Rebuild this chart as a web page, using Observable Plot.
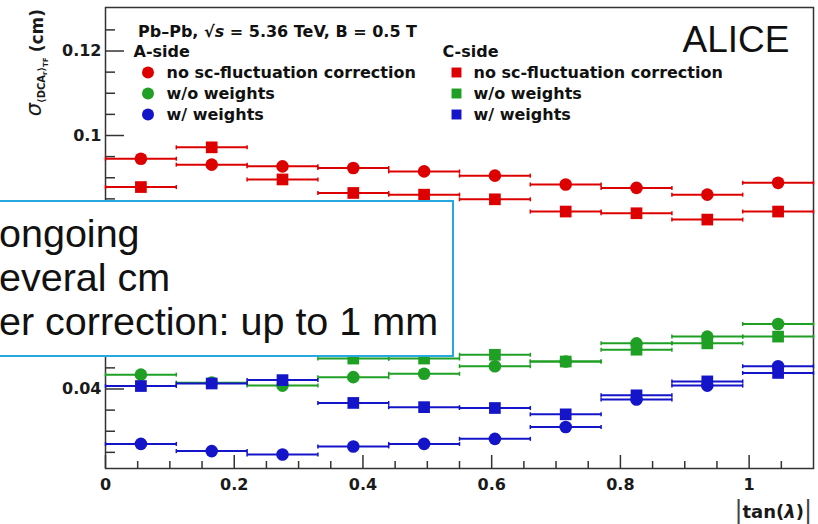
<!DOCTYPE html>
<html>
<head>
<meta charset="utf-8">
<script src="https://cdn.jsdelivr.net/npm/d3@7"></script>
<script src="https://cdn.jsdelivr.net/npm/@observablehq/plot@0.6"></script>
<style>
html, body { margin: 0; padding: 0; background: #fff; overflow: hidden; }
#wrap { position: relative; width: 818px; height: 524px; overflow: hidden; background: #fff; }
#note { position: absolute; left: -30px; top: 199.5px; width: 483.5px; height: 157.5px;
        box-sizing: border-box; border: 2.5px solid #26a9e0; background: #fff; }
.nline { position: absolute; left: -1px; font-family: "Liberation Sans", Arial, sans-serif;
         font-size: 39.5px; line-height: 40px; white-space: nowrap; color: #111; }
</style>
</head>
<body>
<div id="wrap"></div>
<script>
// ---------- data ----------
const binEdges = [0, 0.11, 0.22, 0.33, 0.44, 0.55, 0.66, 0.77, 0.88, 0.99, 1.10];
const seriesNames = ["no sc-fluctuation correction", "w/o weights", "w/ weights"];
const seriesColors = ["#dd0000", "#1f9f24", "#1414c8"];
const sideNames = ["A-side", "C-side"];

// A-side (circles)
const aSideNoCorr  = [0.0945, 0.0931, 0.0927, 0.0923, 0.0915, 0.0905, 0.0884, 0.0876, 0.0860, 0.0888];
const aSideNoW     = [0.0434, 0.0415, 0.0408, 0.0428, 0.0436, 0.0454, 0.0465, 0.0508, 0.0524, 0.0554];
const aSideW       = [0.0270, 0.0253, 0.0245, 0.0264, 0.0270, 0.0282, 0.0310, 0.0375, 0.0408, 0.0454];
// C-side (squares)
const cSideNoCorr  = [0.0878, 0.0972, 0.0896, 0.0864, 0.0860, 0.0849, 0.0820, 0.0816, 0.0801, 0.0820];
const cSideNoW     = [0.0500, 0.0498, 0.0494, 0.0472, 0.0472, 0.0481, 0.0465, 0.0493, 0.0508, 0.0524];
const cSideW       = [0.0407, 0.0413, 0.0421, 0.0367, 0.0357, 0.0355, 0.0340, 0.0385, 0.0418, 0.0438];

const yMajorTicks = [0.04, 0.06, 0.08, 0.1, 0.12];
const yLabelTicks = [0.04, 0.1, 0.12]; // 0.06 and 0.08 lie under the overlay box
const yMinorTicks = [0.025, 0.03, 0.035, 0.045, 0.05, 0.055, 0.065, 0.07, 0.075, 0.085, 0.09, 0.095, 0.105, 0.11, 0.115, 0.125];
const xMajorTicks = [0, 0.2, 0.4, 0.6, 0.8, 1];
const xMinorTicks = [0.05, 0.1, 0.15, 0.25, 0.3, 0.35, 0.45, 0.5, 0.55, 0.65, 0.7, 0.75, 0.85, 0.9, 0.95, 1.05];

const headerText = "Pb–Pb, √s = 5.36 TeV, B = 0.5 T";
const experimentText = "ALICE";
const noteLines = ["ongoing", "everal cm", "er correction: up to 1 mm"];

// ---------- build ----------
const centers = binEdges.slice(0, -1).map((e, i) => (e + binEdges[i + 1]) / 2);
const seriesList = [
  {side: 0, k: 0, values: aSideNoCorr},
  {side: 0, k: 1, values: aSideNoW},
  {side: 0, k: 2, values: aSideW},
  {side: 1, k: 0, values: cSideNoCorr},
  {side: 1, k: 1, values: cSideNoW},
  {side: 1, k: 2, values: cSideW}
];

const capSymbol = {
  draw(ctx, size) { const h = Math.sqrt(size / Math.PI); ctx.moveTo(0, -h); ctx.lineTo(0, h); }
};

const fmt = d => String(+d.toFixed(2));
const marks = [];

marks.push(Plot.frame({stroke: "#333", strokeWidth: 1.5}));
marks.push(Plot.axisY({ticks: yMajorTicks, tickSize: -19, text: null, label: null, stroke: "#333", strokeWidth: 1.5}));
marks.push(Plot.axisY({ticks: yMinorTicks, tickSize: -10, text: null, label: null, stroke: "#333", strokeWidth: 1.5}));
marks.push(Plot.axisY({ticks: yLabelTicks, tickSize: 0, tickPadding: 4, tickFormat: fmt, label: null,
  fontSize: 16, fontWeight: "bold", fill: "#1a1a1a"}));
marks.push(Plot.axisX({ticks: xMajorTicks, tickSize: -13, text: null, label: null, stroke: "#333", strokeWidth: 1.5}));
marks.push(Plot.axisX({ticks: xMinorTicks, tickSize: -7, text: null, label: null, stroke: "#333", strokeWidth: 1.5}));
marks.push(Plot.axisX({ticks: xMajorTicks, tickSize: 0, tickPadding: 10, tickFormat: fmt, label: null,
  fontSize: 16, fontWeight: "bold", fill: "#1a1a1a"}));

for (const s of seriesList) {
  const color = seriesColors[s.k];
  const rows = s.values.map((v, i) => ({x0: binEdges[i], x1: binEdges[i + 1], x: centers[i], y: v}));
  marks.push(Plot.link(rows, {x1: "x0", x2: "x1", y1: "y", y2: "y", stroke: color, strokeWidth: 2}));
  marks.push(Plot.dot(rows, {x: "x0", y: "y", symbol: capSymbol, r: 2, stroke: color, strokeWidth: 1.5, fill: "none"}));
  marks.push(Plot.dot(rows, {x: "x1", y: "y", symbol: capSymbol, r: 2, stroke: color, strokeWidth: 1.5, fill: "none"}));
  marks.push(Plot.dot(rows, {x: "x", y: "y", symbol: s.side === 0 ? "circle" : "square",
    r: s.side === 0 ? 6.3 : 6.6, fill: color, stroke: "none"}));
}

// legend (pixel offsets from the frame's top-left corner)
const legendSideDx = [28, 337];
const legendMarkerDx = [42.5, 351];
const legendTextDx = [61, 368];
const legendRowBase = [70.5, 91.5, 112.5];
for (let side = 0; side < 2; side++) {
  marks.push(Plot.text([sideNames[side]], {text: d => d, frameAnchor: "top-left", dx: legendSideDx[side], dy: 49.5,
    textAnchor: "start", lineAnchor: "bottom", fontSize: 16, fontWeight: "bold", fill: "#111"}));
  for (let k = 0; k < 3; k++) {
    marks.push(Plot.dot([0], {x: null, y: null, frameAnchor: "top-left", dx: legendMarkerDx[side], dy: legendRowBase[k] - 5.5,
      symbol: side === 0 ? "circle" : "square", r: side === 0 ? 6 : 5.6, fill: seriesColors[k], stroke: "none"}));
    marks.push(Plot.text([seriesNames[k]], {text: d => d, frameAnchor: "top-left", dx: legendTextDx[side], dy: legendRowBase[k],
      textAnchor: "start", lineAnchor: "bottom", fontSize: 16, fontWeight: "bold", fill: "#111"}));
  }
}
marks.push(Plot.text([experimentText], {text: d => d, frameAnchor: "top-left", dx: 577, dy: 44.7,
  textAnchor: "start", lineAnchor: "bottom", fontSize: 37, fontWeight: "normal", fontFamily: "Liberation Sans", fill: "#111"}));

const chart = Plot.plot({
  width: 818, height: 524,
  marginLeft: 105, marginRight: 5, marginTop: 7, marginBottom: 56,
  x: {domain: [0, 1.1]},
  y: {domain: [0.02118, 0.1303]},
  style: {fontFamily: "DejaVu Sans", fontSize: "16px", background: "#fff", color: "#1a1a1a", overflow: "visible"},
  marks
});

const wrap = document.getElementById("wrap");
wrap.appendChild(chart);

// header, axis titles as svg text with styled runs
const svg = d3.select(chart);
const hdr = svg.append("text").attr("x", 138).attr("y", 36.7).attr("text-anchor", "start")
  .attr("font-family", "DejaVu Sans").attr("font-weight", "bold").attr("font-size", 16).attr("fill", "#111");
const hp = headerText.split("s =");
hdr.append("tspan").text(hp[0]);
hdr.append("tspan").attr("font-style", "italic").text("s");
hdr.append("tspan").text(" =" + hp[1]);

const yt = svg.append("text").attr("transform", "translate(41,9) rotate(-90)").attr("text-anchor", "end")
  .attr("font-family", "DejaVu Sans").attr("fill", "#1a1a1a");
yt.append("tspan").attr("font-style", "italic").attr("font-size", 21).text("σ");
yt.append("tspan").attr("font-size", 10).attr("font-weight", "bold").attr("dy", 4).text("⟨DCA");
yt.append("tspan").attr("font-size", 7).attr("font-weight", "bold").attr("dy", 2).text("r");
yt.append("tspan").attr("font-size", 10).attr("font-weight", "bold").attr("dy", -2).text("⟩");
yt.append("tspan").attr("font-size", 7).attr("font-weight", "bold").attr("dy", 3).text("TF");
yt.append("tspan").attr("font-size", 17).attr("font-weight", "bold").attr("dy", -5).attr("dx", 5).text("(cm)");

const xt = svg.append("text").attr("x", 812).attr("y", 518).attr("text-anchor", "end")
  .attr("font-family", "DejaVu Sans").attr("fill", "#1a1a1a");
xt.append("tspan").attr("font-size", 24).attr("fill", "#444").text("|");
xt.append("tspan").attr("font-size", 18).attr("font-weight", "bold").text("tan(");
xt.append("tspan").attr("font-size", 18).attr("font-weight", "bold").attr("font-style", "italic").text("λ");
xt.append("tspan").attr("font-size", 18).attr("font-weight", "bold").text(")");
xt.append("tspan").attr("font-size", 24).attr("fill", "#444").text("|");

// overlay note box
const note = document.createElement("div");
note.id = "note";
wrap.appendChild(note);
const noteTops = [212.6, 256.6, 300.6];
noteLines.forEach((t, i) => {
  const d = document.createElement("div");
  d.className = "nline";
  d.style.top = noteTops[i] + "px";
  d.textContent = t;
  wrap.appendChild(d);
});
</script>
</body>
</html>
